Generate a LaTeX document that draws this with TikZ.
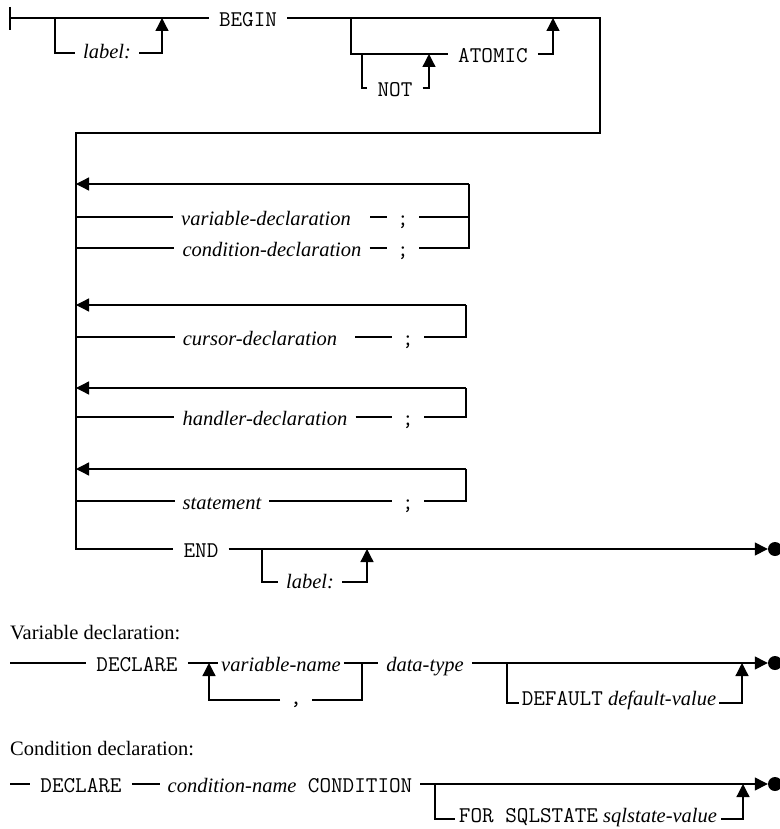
\documentclass[tikz,border=0pt]{standalone}
\usepackage{fontspec}
\setmainfont{Liberation Serif}
\usetikzlibrary{arrows.meta}
\tikzset{
  rail/.style={line width=1.3pt},
  railarr/.style={rail,-{Triangle[length=13pt,width=13pt]}},
  kw/.style={font=\fontsize{22.5}{26}\selectfont\ttfamily,inner xsep=10pt,
             inner ysep=0pt,text height=17pt,text depth=0pt},
  var/.style={font=\fontsize{20.5}{24}\selectfont\itshape,inner xsep=8pt,
              inner ysep=0pt,text height=16pt,text depth=0pt},
  mix/.style={font=\fontsize{20.5}{24}\selectfont,inner xsep=3pt,
              inner ysep=0pt,text height=16pt,text depth=0pt},
  caption/.style={font=\fontsize{20.5}{24}\selectfont,anchor=base west,inner sep=0pt},
  stopdot/.style={circle,fill,inner sep=0pt,minimum size=14pt}
}
\newcommand{\kwtext}[1]{{\fontsize{22.5}{26}\selectfont\ttfamily #1}}
\begin{document}
\begin{tikzpicture}[x=1pt,y=-1pt]
  \useasboundingbox (0,0) rectangle (779,829);

  % compound statement
  \coordinate (s0) at (10,18);
  \coordinate (lab1in) at (55,18);
  \coordinate (lab1out) at (162,18);
  \coordinate (atin) at (351,18);
  \coordinate (atout) at (553,18);
  \coordinate (notin) at (362,54);
  \coordinate (notout) at (429,54);
  \coordinate (turn) at (600,18);
  \coordinate (spine) at (76,133);
  \draw[rail] (10,7) -- (10,30);
  \node[kw] (begin) at (248,18) {BEGIN};
  \node[var,text height=12pt] (lab1) at (107,53) {label:};
  \node[kw] (atomic) at (493,54) {ATOMIC};
  \node[kw] (not) at (395,88) {NOT};
  \node[kw] (endkw) at (201,549) {END};
  \draw[rail] (s0) -- (begin.west);
  \draw[rail] (lab1in) |- (lab1.west);
  \draw[railarr] (lab1.east) -| (lab1out);
  \draw[rail] (atin) |- (atomic.west);
  \draw[railarr] (atomic.east) -| (atout);
  \draw[rail] (notin) |- (not.west);
  \draw[railarr] (not.east) -| (notout);
  \draw[rail] (begin.east) -- (turn) |- (spine) -- (spine |- endkw) -- (endkw.west);

  \node[var] (vdecl) at (266,217) {variable-declaration};
  \node[kw] (semi1) at (403,217) {;};
  \node[var] (cdecl) at (272,248) {condition-declaration};
  \node[kw] (semi2) at (403,248) {;};
  \coordinate (back1) at (469,184);
  \draw[railarr] (back1) -- (spine |- back1);
  \draw[rail] (spine |- vdecl) -- (vdecl.west);
  \draw[rail] ([xshift=11pt]vdecl.east) -- (semi1.west);
  \draw[rail] (semi1.east) -- (semi1.east -| back1);
  \draw[rail] (spine |- cdecl) -- (cdecl.west);
  \draw[rail] (cdecl.east) -- (semi2.west);
  \draw[rail] (semi2.east) -| (back1);

  \node[var] (cursdecl) at (260,337) {cursor-declaration};
  \node[kw] (semi3) at (408,337) {;};
  \coordinate (back2) at (466,305);
  \draw[railarr] (back2) -- (spine |- back2);
  \draw[rail] (spine |- cursdecl) -- (cursdecl.west);
  \draw[rail] ([xshift=10pt]cursdecl.east) -- (semi3.west);
  \draw[rail] (semi3.east) -| (back2);

  \node[var] (hdecl) at (265,417) {handler-declaration};
  \node[kw] (semi4) at (408,417) {;};
  \coordinate (back3) at (466,388);
  \draw[railarr] (back3) -- (spine |- back3);
  \draw[rail] (spine |- hdecl) -- (hdecl.west);
  \draw[rail] (hdecl.east) -- (semi4.west);
  \draw[rail] (semi4.east) -| (back3);

  \node[var] (stmt) at (222,501) {statement};
  \node[kw] (semi5) at (408,501) {;};
  \coordinate (back4) at (466,469);
  \draw[railarr] (back4) -- (spine |- back4);
  \draw[rail] (spine |- stmt) -- (stmt.west);
  \draw[rail] (stmt.east) -- (semi5.west);
  \draw[rail] (semi5.east) -| (back4);

  \node[var,text height=12pt] (lab2) at (310,582) {label:};
  \node[stopdot] (stop1) at (775,549) {};
  \coordinate (lab2in) at (262,549);
  \coordinate (lab2out) at (367,549);
  \draw[railarr] (endkw.east) -- (stop1.west);
  \draw[rail] (lab2in) |- (lab2.west);
  \draw[railarr] (lab2.east) -| (lab2out);

  % variable declaration
  \node[caption] (vcap) at (10,639) {Variable declaration:};
  \coordinate (v0) at (10,663);
  \coordinate (vl) at (209,663);
  \coordinate (vr) at (362,663);
  \coordinate (dfin) at (507,663);
  \coordinate (dfout) at (742,663);
  \node[kw] (decl1) at (137,663) {DECLARE};
  \node[var,inner xsep=3pt] (vname) at (281,663) {variable-name};
  \node[var] (dtype) at (425,663) {data-type};
  \node[kw,text height=9pt] (comma) at (296,700) {,};
  \node[mix,text height=5pt] (dflt) at (619,703) {\kwtext{DEFAULT} \textit{default-value}};
  \node[stopdot] (stop2) at (775,663) {};
  \draw[rail] (v0) -- (decl1.west);
  \draw[rail] (decl1.east) -- (vname.west);
  \draw[rail] (vname.east) -- (dtype.west);
  \draw[rail] (vr) |- (comma.east);
  \draw[railarr] (comma.west) -| (vl);
  \draw[railarr] (dtype.east) -- (stop2.west);
  \draw[rail] (dfin) |- (dflt.west);
  \draw[railarr] (dflt.east) -| (dfout);

  % condition declaration
  \node[caption] (ccap) at (10,755) {Condition declaration:};
  \coordinate (c0) at (10,784);
  \coordinate (forin) at (435,784);
  \coordinate (forout) at (743,784);
  \node[kw] (decl2) at (81,784) {DECLARE};
  \node[mix,inner xsep=8pt] (cname) at (290,784)
    {\textit{condition-name}\kwtext{\ CONDITION}};
  \node[mix,inner xsep=4pt,text height=7pt] (forsql) at (588,819)
    {\kwtext{FOR SQLSTATE} \textit{sqlstate-value}};
  \node[stopdot] (stop3) at (775,784) {};
  \draw[rail] (c0) -- (decl2.west);
  \draw[rail] (decl2.east) -- (cname.west);
  \draw[railarr] (cname.east) -- (stop3.west);
  \draw[rail] (forin) |- (forsql.west);
  \draw[railarr] (forsql.east) -| (forout);
\end{tikzpicture}
\end{document}
